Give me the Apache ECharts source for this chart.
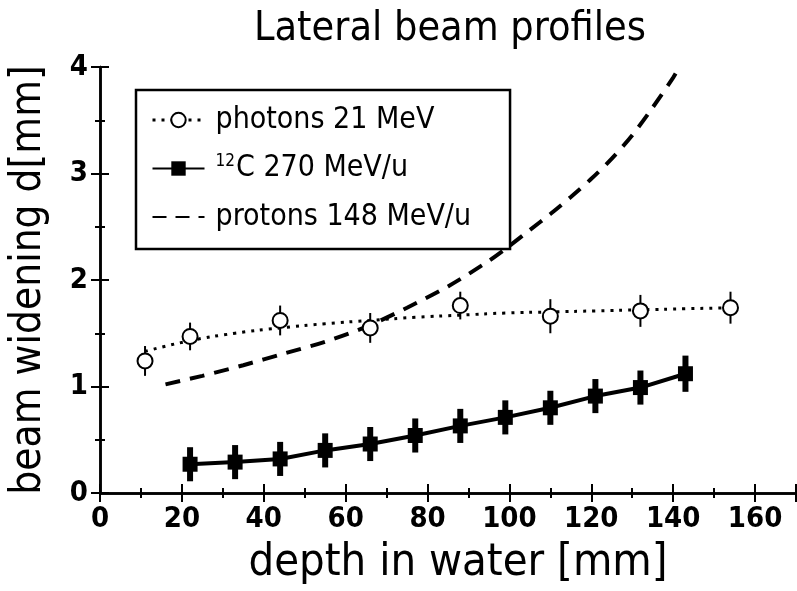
<!DOCTYPE html>
<html>
<head>
<meta charset="utf-8">
<script src="https://cdn.jsdelivr.net/npm/echarts@6/dist/echarts.min.js"></script>
<style>
  html, body { margin: 0; padding: 0; background: #fff; }
  #chart { width: 797px; height: 591px; }
</style>
</head>
<body>
<div id="chart"></div>
<script>
// measured points, photons 21 MeV
const photonX = [11, 22, 44, 66, 88, 110, 132, 154];
const photonY = [1.24, 1.47, 1.62, 1.55, 1.76, 1.66, 1.71, 1.74];
const photonErr = [0.14, 0.13, 0.14, 0.14, 0.13, 0.16, 0.15, 0.15];
// dotted fit through photon points
const photonFitX = [11, 22, 33, 44, 55, 66, 77, 88, 99, 110, 121, 132, 143, 155];
const photonFitY = [1.33, 1.43, 1.50, 1.55, 1.59, 1.62, 1.65, 1.67, 1.69, 1.70, 1.71, 1.72, 1.73, 1.74];
// 12C 270 MeV/u
const carbonX = [22, 33, 44, 55, 66, 77, 88, 99, 110, 121, 132, 143];
const carbonY = [0.27, 0.29, 0.32, 0.40, 0.46, 0.54, 0.63, 0.71, 0.80, 0.91, 0.99, 1.12];
const carbonErr = [0.16, 0.16, 0.16, 0.16, 0.16, 0.16, 0.16, 0.16, 0.16, 0.16, 0.16, 0.17];
// protons 148 MeV/u (dashed curve)
const protonX = [16, 25, 35, 45, 55, 65, 75, 85, 95, 100, 105, 110, 115, 120, 125, 130, 135, 140, 141.5];
const protonY = [1.02, 1.10, 1.20, 1.31, 1.42, 1.56, 1.74, 1.94, 2.18, 2.32, 2.47, 2.62, 2.78, 2.95, 3.14, 3.36, 3.62, 3.90, 4.0];

const xTicks = [0, 20, 40, 60, 80, 100, 120, 140, 160];
const yTicks = [0, 1, 2, 3, 4];

const FONT = "'DejaVu Sans Condensed', 'Liberation Sans Narrow', sans-serif";

function zip(xs, ys) {
  return xs.map((x, i) => [x, ys[i]]);
}

function errBars(xs, ys, es) {
  return xs.map((x, i) => [x, ys[i] - es[i], ys[i] + es[i]]);
}

function errRender(width) {
  return function (params, api) {
    const lo = api.coord([api.value(0), api.value(1)]);
    const hi = api.coord([api.value(0), api.value(2)]);
    return {
      type: 'line',
      shape: { x1: lo[0], y1: lo[1], x2: hi[0], y2: hi[1] },
      style: { stroke: '#000', lineWidth: width }
    };
  };
}

const chart = echarts.init(document.getElementById('chart'));

const frameAxis = {
  min: 0,
  axisLine: { show: true, lineStyle: { color: '#000', width: 2.5 } },
  axisTick: { show: true, inside: true, length: 9, lineStyle: { color: '#000', width: 2 } },
  minorTick: { show: true, splitNumber: 2, length: 5, lineStyle: { color: '#000', width: 2 } },
  splitLine: { show: false },
  axisLabel: { show: false }
};

chart.setOption({
  backgroundColor: '#fff',
  animation: false,
  title: {
    text: 'Lateral beam profiles',
    left: 445,
    top: 4,
    textAlign: 'center',
    textStyle: { fontFamily: FONT, fontSize: 41, fontWeight: 'normal', color: '#000' }
  },
  grid: { left: 100, right: 1, top: 67, bottom: 98 },
  legend: {
    orient: 'vertical',
    left: 136,
    top: 90,
    padding: [15, 39, 17, 15],
    itemGap: 18.5,
    itemWidth: 52,
    itemHeight: 18,
    borderColor: '#000',
    borderWidth: 2.5,
    backgroundColor: '#fff',
    textStyle: {
      fontFamily: FONT, fontSize: 30, color: '#000', lineHeight: 30, padding: [0, 0, 0, 6],
      rich: {
        sup: { fontFamily: FONT, fontSize: 17, color: '#000', verticalAlign: 'top', lineHeight: 30, padding: [0, 1, 10, 0] },
        n: { fontFamily: FONT, fontSize: 30, color: '#000', lineHeight: 30 }
      }
    },
    formatter: function (name) {
      if (name.indexOf('C 270') === 0) return '{sup|12}{n|' + name + '}';
      return name;
    },
    data: [
      { name: 'photons 21 MeV', lineStyle: { opacity: 1, width: 3, type: [3, 6], color: '#000' } },
      { name: 'C 270 MeV/u' },
      { name: 'protons 148 MeV/u', itemStyle: { opacity: 0 }, lineStyle: { type: [14, 9] } }
    ]
  },
  xAxis: [
    Object.assign({}, frameAxis, {
      type: 'value',
      max: 170,
      interval: 20,
      position: 'bottom',
      axisLabel: {
        show: true, showMaxLabel: false, margin: 12,
        fontFamily: FONT, fontSize: 29, fontWeight: 'bold', color: '#000',
        formatter: function (v) { return xTicks.indexOf(v) >= 0 ? String(v) : ''; }
      },
      name: 'depth in water [mm]',
      nameLocation: 'middle',
      nameGap: 48,
      nameTextStyle: { fontFamily: FONT, fontSize: 45, color: '#000', padding: [0, 0, 0, 20] }
    }),
    Object.assign({}, frameAxis, {
      type: 'value', max: 170, interval: 20, position: 'top'
    })
  ],
  yAxis: [
    Object.assign({}, frameAxis, {
      type: 'value',
      max: 4,
      interval: 1,
      position: 'left',
      axisLabel: {
        show: true, margin: 12,
        fontFamily: FONT, fontSize: 29, fontWeight: 'bold', color: '#000',
        formatter: function (v) { return yTicks.indexOf(v) >= 0 ? String(v) : ''; }
      },
      name: 'beam widening d[mm]',
      nameLocation: 'middle',
      nameGap: 50,
      nameTextStyle: { fontFamily: FONT, fontSize: 42, color: '#000' }
    }),
    Object.assign({}, frameAxis, {
      type: 'value', max: 4, interval: 1, position: 'right'
    })
  ],
  series: [
    {
      name: 'photon fit',
      type: 'line',
      data: zip(photonFitX, photonFitY),
      smooth: true,
      symbol: 'none',
      lineStyle: { color: '#000', width: 3, type: [3, 6] },
      z: 2
    },
    {
      name: 'photon errors',
      type: 'custom',
      data: errBars(photonX, photonY, photonErr),
      renderItem: errRender(2),
      encode: { x: 0, y: [1, 2] },
      z: 3
    },
    {
      name: 'photons 21 MeV',
      type: 'line',
      data: zip(photonX, photonY),
      symbol: 'emptyCircle',
      symbolSize: 15,
      itemStyle: { color: '#000', borderWidth: 2 },
      lineStyle: { opacity: 0 },
      z: 4
    },
    {
      name: 'protons 148 MeV/u',
      type: 'line',
      data: zip(protonX, protonY),
      smooth: 0.3,
      symbol: 'none',
      itemStyle: { color: '#000' },
      lineStyle: { color: '#000', width: 4, type: [15, 10] },
      z: 2
    },
    {
      name: 'carbon errors',
      type: 'custom',
      data: errBars(carbonX, carbonY, carbonErr),
      renderItem: errRender(6),
      encode: { x: 0, y: [1, 2] },
      z: 3
    },
    {
      name: 'C 270 MeV/u',
      type: 'line',
      data: zip(carbonX, carbonY),
      symbol: 'rect',
      symbolSize: 15,
      itemStyle: { color: '#000' },
      lineStyle: { color: '#000', width: 4 },
      z: 4
    }
  ]
});
</script>
</body>
</html>
